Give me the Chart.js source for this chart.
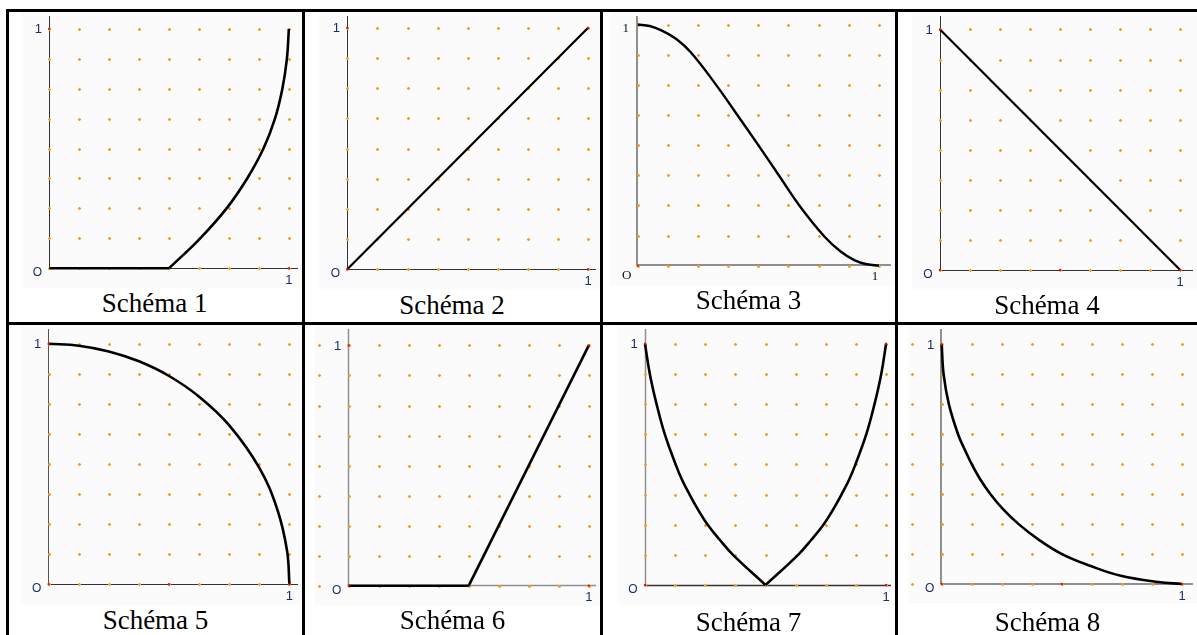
<!DOCTYPE html>
<html>
<head>
<meta charset="utf-8">
<script src="https://cdn.jsdelivr.net/npm/chart.js@4.4.1/dist/chart.umd.min.js"></script>
<style>
  body{margin:0;background:#fff;width:1197px;height:635px;overflow:hidden;position:relative}
  .rule{position:absolute;background:#000}
  .plot{position:absolute}
  .cap{position:absolute;width:300px;text-align:center;font-family:"Liberation Serif","Times New Roman",serif;font-size:27px;line-height:27px;color:#000;white-space:nowrap}
</style>
</head>
<body>
<script>
const captions = ["Schéma 1","Schéma 2","Schéma 3","Schéma 4","Schéma 5","Schéma 6","Schéma 7","Schéma 8"];
const originLabel = "O";
const unitLabel = "1";

// courbes (x, y dans [0,1])
const s1Flat  = [[0,0],[0.5,0]];
const s1Curve = [[0.5,0],[0.63,0.125],[0.74,0.25],[0.826,0.375],[0.894,0.5],[0.942,0.625],[0.973,0.75],[0.992,0.875],[1,1]];
const s2Line  = [[0,0],[1,1]];
const s3Curve = [[0,1],[0.05,0.994],[0.1,0.975],[0.16,0.94],[0.22,0.885],[0.325,0.75],[0.413,0.625],[0.5,0.5],[0.585,0.375],[0.67,0.25],[0.775,0.12],[0.84,0.06],[0.9,0.022],[0.95,0.006],[1,0]];
const s4Line  = [[0,1],[1,0]];
const s5Curve = [[0,1],[0.125,0.992],[0.25,0.968],[0.375,0.927],[0.5,0.866],[0.625,0.78],[0.75,0.661],[0.875,0.484],[0.95,0.31],[0.99,0.14],[1,0]];
const s6Flat  = [[0,0],[0.5,0]];
const s6Line  = [[0.5,0],[1,1]];
const s7Left  = [[0,1],[0.02,0.875],[0.048,0.75],[0.082,0.625],[0.127,0.5],[0.153,0.4375],[0.185,0.375],[0.22,0.3125],[0.26,0.25],[0.31,0.1875],[0.365,0.125],[0.5,0]];
const s7Right = [[0.5,0],[0.635,0.125],[0.69,0.1875],[0.74,0.25],[0.78,0.3125],[0.815,0.375],[0.847,0.4375],[0.873,0.5],[0.918,0.625],[0.952,0.75],[0.98,0.875],[1,1]];
const s8Curve = [[0,1],[0.008,0.875],[0.03,0.75],[0.068,0.625],[0.095,0.5625],[0.125,0.5],[0.16,0.4375],[0.203,0.375],[0.255,0.3125],[0.32,0.25],[0.4,0.1875],[0.5,0.125],[0.62,0.075],[0.745,0.034],[0.9,0.008],[1,0]];

// points rouges
const s1Marks = [[0,1],[1,0]];
const s2Marks = [[0,0],[0,1],[1,1],[1,0]];
const s3Marks = [[0,0]];
const s4Marks = [[0,0],[0,1],[0.5,0],[1,0]];
const s5Marks = [[0,0],[0,1],[0.5,0],[1,0]];
const s6Marks = [[0,0],[0,1],[1,1],[1,0]];
const s7Marks = [[0,0],[0,1],[1,1],[1,0]];
const s8Marks = [[0,0],[0,1],[0.5,0],[1,0]];

const GRID_STEP = 0.125;
const DARK = "#333", GREY = "#8f8f8f";

// emplacement de chaque repère dans la page
const frames = [
  {left:22,  top:12,  right:302,  bottom:288, ox:49.3,  oy:268.3, x1:292.7,  y1:25,    capX:154.7,  capY:312.7},
  {left:319, top:12,  right:600,  bottom:289, ox:347.3, oy:269.3, x1:592,    y1:24,    capX:452,    capY:315},
  {left:610, top:12,  right:895,  bottom:286, ox:637.7, oy:265.7, x1:882.7,  y1:20.7,  capX:748.5,  capY:310},
  {left:912, top:12,  right:1197, bottom:290, ox:940,   oy:270,   x1:1184,   y1:25.7,  capX:1047,   capY:315},
  {left:21,  top:325, right:302,  bottom:605, ox:48.7,  oy:584.3, x1:293.3,  y1:340,   capX:155.5,  capY:630},
  {left:315, top:325, right:600,  bottom:606, ox:348.7, oy:585.7, x1:592.7,  y1:341.7, capX:452.5,  capY:630},
  {left:617, top:325, right:895,  bottom:605, ox:645,   oy:585,   x1:890,    y1:340,   capX:748.5,  capY:631.5},
  {left:908, top:325, right:1197, bottom:604, ox:941.7, oy:584,   x1:1186,   y1:340.7, capX:1047.5, capY:631.5}
];

const panels = [
  {series:[{pts:s1Flat,smooth:false,w:2.6},{pts:s1Curve,smooth:true,w:2.6}], marks:s1Marks, yAxis:DARK, xAxis:DARK, axisW:1, gridFrom:0},
  {series:[{pts:s2Line,smooth:false,w:2.2}], marks:s2Marks, yAxis:DARK, xAxis:DARK, axisW:1, gridFrom:0},
  {series:[{pts:s3Curve,smooth:true,w:2.4}], marks:s3Marks, yAxis:GREY, xAxis:GREY, axisW:2, gridFrom:0, serif:true},
  {series:[{pts:s4Line,smooth:false,w:2.2}], marks:s4Marks, yAxis:DARK, xAxis:DARK, axisW:1, gridFrom:0},
  {series:[{pts:s5Curve,smooth:true,w:2.6}], marks:s5Marks, yAxis:"#555", xAxis:DARK, axisW:1, gridFrom:0},
  {series:[{pts:s6Flat,smooth:false,w:2.6},{pts:s6Line,smooth:false,w:2.6}], marks:s6Marks, yAxis:GREY, xAxis:GREY, axisW:1.5, gridFrom:-0.125},
  {series:[{pts:s7Left,smooth:true,w:2.6},{pts:s7Right,smooth:true,w:2.6}], marks:s7Marks, yAxis:GREY, xAxis:DARK, axisW:1.5, gridFrom:0},
  {series:[{pts:s8Curve,smooth:true,w:2.6}], marks:s8Marks, yAxis:GREY, xAxis:GREY, axisW:2, gridFrom:-0.125}
];

const toXY = pts => pts.map(([x,y]) => ({x, y}));

function rule(l, t, w, h){
  const d = document.createElement("div");
  d.className = "rule";
  Object.assign(d.style, {left:l+"px", top:t+"px", width:w+"px", height:h+"px"});
  document.body.appendChild(d);
}

// cadre du tableau
rule(6, 9, 1195, 3);
rule(6, 322, 1195, 3);
rule(6, 9, 3, 640);
rule(302, 9, 3, 640);
rule(600, 9, 3, 640);
rule(895, 9, 3, 640);

// fond, axes, pointillés et étiquettes
const sketch = {
  id: "sketch",
  beforeDatasetsDraw(chart, args, o){
    const {ctx, chartArea, scales:{x, y}} = chart;
    ctx.save();
    ctx.fillStyle = "#fbfbfb";
    ctx.fillRect(0, 0, chart.width, chart.height);

    const ox = x.getPixelForValue(0), oy = y.getPixelForValue(0);
    const half = o.axisW % 2 ? 0.5 : 0;
    ctx.lineWidth = o.axisW;
    ctx.strokeStyle = o.yAxis;
    ctx.beginPath();
    ctx.moveTo(Math.floor(ox) + half, chartArea.top);
    ctx.lineTo(Math.floor(ox) + half, Math.floor(oy) + half);
    ctx.stroke();
    ctx.strokeStyle = o.xAxis;
    ctx.beginPath();
    ctx.moveTo(Math.floor(ox), Math.floor(oy) + half);
    ctx.lineTo(chartArea.right, Math.floor(oy) + half);
    ctx.stroke();

    // petites croix orange tous les 1/8
    for(let gx = o.gridFrom; gx <= 1.0001; gx += GRID_STEP){
      for(let gy = 0; gy <= 1.0001; gy += GRID_STEP){
        const px = Math.round(x.getPixelForValue(gx)), py = Math.round(y.getPixelForValue(gy));
        ctx.fillStyle = "rgba(255,170,60,0.45)";
        ctx.fillRect(px - 1, py - 1, 3, 3);
        ctx.fillStyle = "#ff9a10";
        ctx.fillRect(px - 1, py, 3, 1);
        ctx.fillRect(px, py - 1, 1, 3);
      }
    }
    ctx.restore();
  },
  afterDraw(chart, args, o){
    const {ctx, scales:{x, y}} = chart;
    const ox = x.getPixelForValue(0), oy = y.getPixelForValue(0);
    const px1 = x.getPixelForValue(1), py1 = y.getPixelForValue(1);
    ctx.save();
    ctx.textAlign = "center";
    ctx.textBaseline = "middle";
    if(o.serif){
      ctx.font = '13px "Liberation Serif"';
      ctx.fillStyle = "#111";
      ctx.fillText(originLabel, ox - 11, oy + 10);
      ctx.fillText(unitLabel, ox - 12, py1 + 4);
      ctx.fillText(unitLabel, px1 - 4, oy + 11);
    } else {
      ctx.fillStyle = "#1d2c68";
      ctx.font = '12px "Liberation Sans"';
      ctx.fillText(originLabel, ox - 12, oy + 4.5);
      ctx.font = '13px "Liberation Sans"';
      ctx.fillText(unitLabel, ox - 11, py1 + 0.5);
      ctx.fillText(unitLabel, px1, oy + 12);
    }
    ctx.restore();
  }
};

panels.forEach((p, i) => {
  const f = frames[i];
  const w = f.right - f.left, h = f.bottom - f.top;
  const cv = document.createElement("canvas");
  cv.className = "plot";
  cv.width = w; cv.height = h;
  Object.assign(cv.style, {left:f.left+"px", top:f.top+"px", width:w+"px", height:h+"px"});
  document.body.appendChild(cv);

  const unitX = f.x1 - f.ox, unitY = f.oy - f.y1;
  const datasets = [{
    data: toXY(p.marks),
    pointStyle: "rect",
    pointRadius: 1.5,
    pointBorderWidth: 0,
    pointBackgroundColor: "#e3120b",
    showLine: false,
    clip: false
  }];
  p.series.forEach(s => datasets.push({
    data: toXY(s.pts),
    showLine: true,
    borderColor: "#000",
    borderWidth: s.w,
    pointRadius: 0,
    tension: s.smooth ? 0.4 : 0,
    capBezierPoints: false,
    clip: false
  }));

  new Chart(cv, {
    type: "scatter",
    data: { datasets },
    options: {
      responsive: false,
      animation: false,
      devicePixelRatio: 1,
      events: [],
      layout: { padding: { left: f.ox - f.left, top: 0, right: 0, bottom: f.bottom - f.oy } },
      scales: {
        x: { type: "linear", display: false, min: 0, max: (f.right - f.ox) / unitX },
        y: { type: "linear", display: false, min: 0, max: (f.oy - f.top) / unitY }
      },
      plugins: {
        legend: { display: false },
        tooltip: { enabled: false },
        sketch: { yAxis: p.yAxis, xAxis: p.xAxis, axisW: p.axisW, gridFrom: p.gridFrom, serif: !!p.serif }
      }
    },
    plugins: [sketch]
  });

  const cap = document.createElement("div");
  cap.className = "cap";
  cap.textContent = captions[i];
  cap.style.left = (f.capX - 150) + "px";
  cap.style.top = (f.capY - 22.6) + "px";
  document.body.appendChild(cap);
});
</script>
</body>
</html>
